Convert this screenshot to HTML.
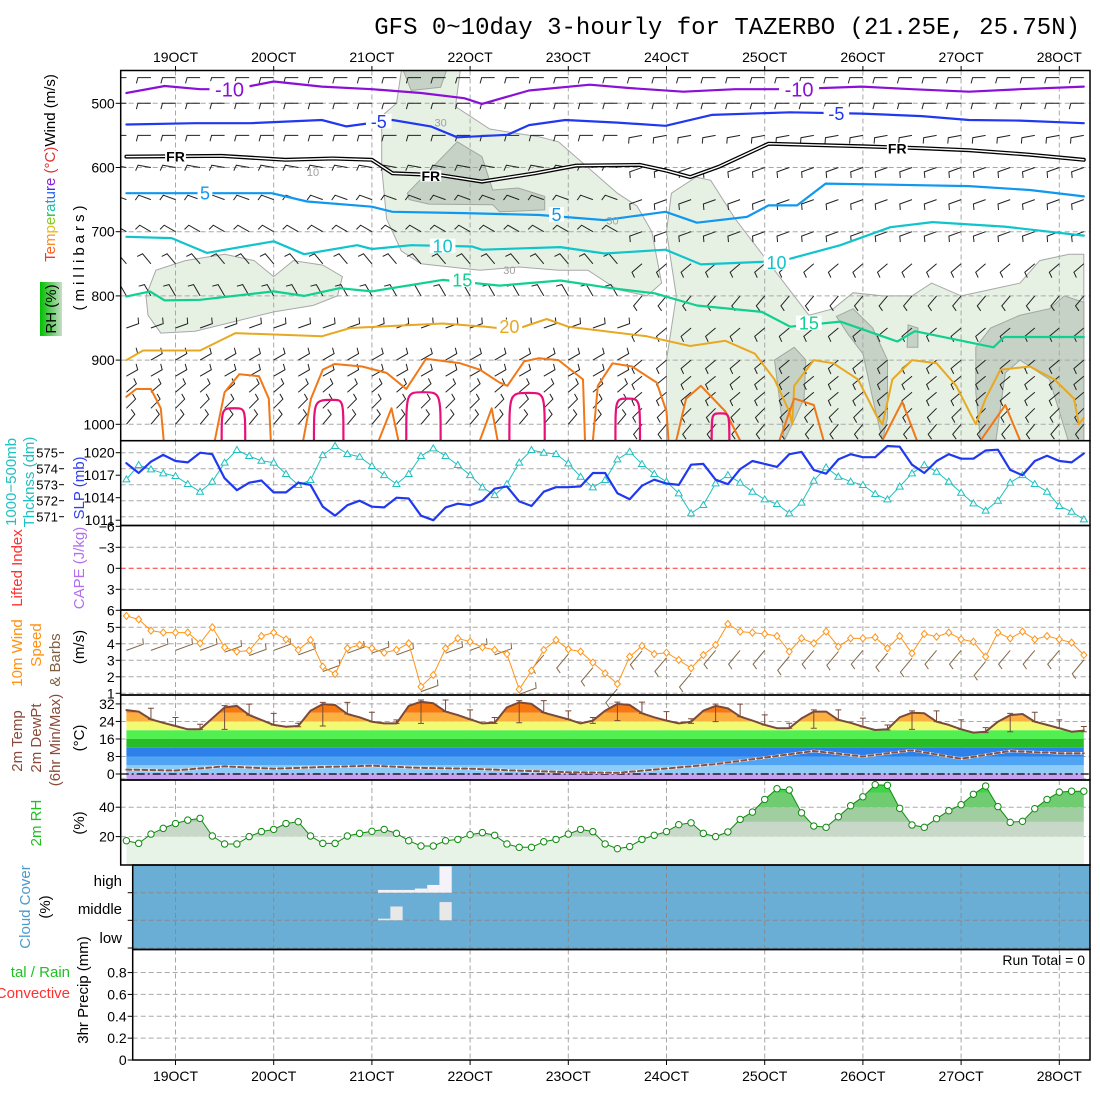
<!DOCTYPE html>
<html><head><meta charset="utf-8"><title>GFS meteogram TAZERBO</title>
<style>
html,body{margin:0;padding:0;background:#fff;}
svg{display:block;font-family:"Liberation Sans",sans-serif;}
</style></head>
<body>
<svg id="chart" xmlns="http://www.w3.org/2000/svg" width="1100" height="1100" viewBox="0 0 1100 1100">
<defs>
<linearGradient id="rhGrad" x1="0" y1="0" x2="1" y2="0">
<stop offset="0" stop-color="#00c000"/><stop offset="1" stop-color="#c8dcc8"/>
</linearGradient>
<clipPath id="clipTop"><rect x="121" y="71" width="969" height="369"/></clipPath>
<clipPath id="clipTemp"><polygon id="tempClipPoly" points="0,0"/></clipPath>
<clipPath id="clipRH"><polygon id="rhClipPoly" points="0,0"/></clipPath>
</defs>
<rect x="0" y="0" width="1100" height="1100" fill="#fff"/>
<text x="1080" y="34" text-anchor="end" font-family="'Liberation Mono',monospace" font-size="24" fill="#000">GFS 0~10day 3-hourly for TAZERBO (21.25E, 25.75N)</text>

<g id="layerBg"></g>
<g id="layerGrid"></g>
<g id="layerData"></g>
<g id="layerAxes"></g>

<g font-size="15">
<text transform="translate(55,168) rotate(-90)" text-anchor="middle"><tspan fill="#ff3030">T</tspan><tspan fill="#ff6020">e</tspan><tspan fill="#ff9020">m</tspan><tspan fill="#e0c020">p</tspan><tspan fill="#80d020">e</tspan><tspan fill="#20c040">r</tspan><tspan fill="#20c0a0">a</tspan><tspan fill="#20a0e0">t</tspan><tspan fill="#2060f0">u</tspan><tspan fill="#4030f0">r</tspan><tspan fill="#9020e0">e</tspan><tspan fill="#e03030"> (°C)</tspan><tspan fill="#000">Wind (m/s)</tspan></text>
<rect x="40" y="282" width="22" height="54" fill="url(#rhGrad)"/>
<text transform="translate(56,309) rotate(-90)" text-anchor="middle" fill="#000">RH (%)</text>
<text transform="translate(84,256) rotate(-90)" text-anchor="middle" fill="#000" letter-spacing="4">(millibars)</text>
<text transform="translate(16,482) rotate(-90)" text-anchor="middle" fill="#20c0c0">1000−500mb</text>
<text transform="translate(34,482) rotate(-90)" text-anchor="middle" fill="#20c0c0">Thcknss (dm)</text>
<text transform="translate(84,488) rotate(-90)" text-anchor="middle" fill="#3040f0">SLP (mb)</text>
<text transform="translate(22,568) rotate(-90)" text-anchor="middle" fill="#ff3030">Lifted Index</text>
<text transform="translate(84,568) rotate(-90)" text-anchor="middle" fill="#b070f0">CAPE (J/kg)</text>
<text transform="translate(22,653) rotate(-90)" text-anchor="middle" fill="#ff9010">10m Wind</text>
<text transform="translate(41,645) rotate(-90)" text-anchor="middle" fill="#ff9010">Speed</text>
<text transform="translate(60,660) rotate(-90)" text-anchor="middle" fill="#806040">&amp; Barbs</text>
<text transform="translate(84,647) rotate(-90)" text-anchor="middle" fill="#000">(m/s)</text>
<text transform="translate(22,741) rotate(-90)" text-anchor="middle" fill="#8a4a3a">2m Temp</text>
<text transform="translate(41,738) rotate(-90)" text-anchor="middle" fill="#8a4a3a">2m DewPt</text>
<text transform="translate(60,740) rotate(-90)" text-anchor="middle" fill="#8a4a3a">(6hr Min/Max)</text>
<text transform="translate(84,738) rotate(-90)" text-anchor="middle" fill="#000">(°C)</text>
<text transform="translate(41,823) rotate(-90)" text-anchor="middle" fill="#20c020">2m RH</text>
<text transform="translate(84,823) rotate(-90)" text-anchor="middle" fill="#000">(%)</text>
<text transform="translate(30,907) rotate(-90)" text-anchor="middle" fill="#4a9ad0">Cloud Cover</text>
<text transform="translate(50,907) rotate(-90)" text-anchor="middle" fill="#000">(%)</text>
<text x="70" y="977" text-anchor="end" fill="#20c020">tal / Rain</text>
<text x="70" y="998" text-anchor="end" fill="#ff3030">Convective</text>
<text transform="translate(88,990) rotate(-90)" text-anchor="middle" fill="#000">3hr Precip (mm)</text>
<text x="122" y="886" text-anchor="end" fill="#000">high</text>
<text x="122" y="914" text-anchor="end" fill="#000">middle</text>
<text x="122" y="943" text-anchor="end" fill="#000">low</text>
<text x="1085" y="965" text-anchor="end" fill="#000" font-size="14">Run Total = 0</text>
</g>

<script>
const dayTicks = [19,20,21,22,23,24,25,26,27,28];
const dayLabels = ["19OCT","20OCT","21OCT","22OCT","23OCT","24OCT","25OCT","26OCT","27OCT","28OCT"];
const startDay = 18.5;
const pressureTicks = [500,600,700,800,900,1000];
const slpTicks = [1020,1017,1014,1011];
const thkTicks = [575,574,573,572,571];
const liTicks = [-6,-3,0,3,6];
const windTicks = [1,2,3,4,5];
const tempTicks = [32,24,16,8,0];
const rhTicks = [20,40];
const precipTicks = [0,0.2,0.4,0.6,0.8];

const slp = [1018.6,1017.3,1018.8,1019.7,1018.9,1018.7,1020,1019.8,1016.6,1015,1016,1016.3,1014.7,1014.7,1016,1015.7,1012.8,1011.6,1013,1013.6,1012.8,1012.7,1014,1013.9,1011.6,1011,1012.7,1013.2,1013,1013.6,1015.2,1015.5,1013.5,1012.9,1014.8,1015.4,
1015.4,1015.5,1017.3,1017.3,1014.6,1013.8,1015.6,1016.4,1015.9,1015.7,1018.4,1018.5,1016.4,1015.8,1017.8,1018.9,1018.5,1018.1,1019.8,1020.1,1017.7,1017.2,1019.1,1019.8,1019.4,1019.4,1020.9,1020.8,1018.4,1017.3,1018.9,1019.8,1019.2,1019.2,1020.3,1020.4,1017.7,1017,1018.9,1019.6,1018.9,1018.7,1019.9];
const thickness = [573.33,574.23,573.96,573.71,573.54,573.04,572.56,573.19,574.38,575.17,574.79,574.5,574.38,573.67,572.98,573.29,574.85,575.42,574.92,574.75,574.17,573.6,573.04,573.67,574.79,575.27,574.79,574.23,573.6,572.83,572.35,573.04,574.38,575.17,575,574.92,
574.33,573.5,572.83,573.29,574.58,575.06,574.29,573.67,573.19,572.46,571.21,571.73,573.08,573.6,573.13,572.56,572.08,571.79,571.21,571.88,573.25,574.08,573.5,573.19,572.98,572.42,572.08,572.88,573.71,574.23,573.81,573.19,572.5,571.83,571.38,572,573.13,573.6,573.04,572.56,571.67,571.31,570.83];
const windSpeed = [5.69,5.48,4.8,4.68,4.68,4.68,4.03,5,3.79,3.53,3.59,4.47,4.68,4.27,3.63,4.23,2.62,2.17,3.73,3.93,3.73,3.46,3.63,4.03,1.4,2.11,3.73,4.33,4.13,3.79,3.63,3.38,1.24,2.37,3.63,4.23,
3.67,3.53,2.86,2.21,1.57,3.22,3.87,3.38,3.46,3.02,2.52,3.32,3.93,5.2,4.74,4.68,4.6,4.47,3.53,4.33,4.03,4.74,3.83,4.33,4.33,4.39,3.73,4.47,3.42,4.6,4.43,4.68,4.27,4.13,3.22,4.68,4.33,4.74,4.27,4.47,4.27,4.07,3.32];
const temp2m = [29.2,28.5,25.0,23.4,21.9,20.4,20.4,25.4,30.4,31.1,26.9,24.7,22.4,21.6,21.9,28.9,31.9,31.5,27.4,25.9,23.9,23.1,23.1,31.1,33.0,32.3,28.5,26.9,25.0,23.1,23.4,30.4,32.7,32.0,28.0,26.5,
25.0,23.1,24.4,28.9,32.0,31.5,27.7,25.9,24.4,23.1,23.9,28.9,31.1,30.0,26.2,24.4,22.4,20.9,20.9,25.4,28.5,28.5,24.7,23.4,21.6,20.1,20.4,25.9,28.0,27.7,23.9,22.4,20.4,18.9,19.3,23.9,26.9,27.4,23.9,22.4,20.9,19.3,19.8];
const rh2m = [17.2,15.4,21.7,25.6,28.9,31.2,32.4,20.4,15.0,15.0,20.0,23.4,24.9,28.9,30.1,20.4,15.4,15.4,20.4,22.2,23.6,24.9,22.2,17.2,13.6,13.6,17.2,18.1,21.3,22.7,20.9,15.0,12.7,12.7,16.5,18.1,
21.7,24.9,23.4,15.0,11.8,13.2,18.1,20.9,23.4,28.1,29.4,22.2,20.0,23.2,31.7,36.7,45.3,52.6,51.7,36.2,27.2,26.3,33.5,41.0,47.1,55.3,54.9,39.2,27.9,26.3,32.2,37.6,41.7,48.8,54.4,40.4,29.7,30.4,39.0,45.3,50.3,50.9,50.9];
const dewIdx = [0,4,8,12,16,20,24,28,32,36,40,44,48,52,56,60,64,68,72,76,78];
const dewPt = [2.0,1.6,3.5,2.4,3.2,3.8,2.8,2.4,1.5,0.8,0.5,2.5,4.5,7.5,10.5,8.0,10.8,7.0,10.5,9.5,9.5];
const cloudIdx = [21,22,23,24,25,26];
const cloudHigh = [10,10,10,15,28,95];
const cloudMid = [6,50,0,0,0,66];
const cloudLow = [0,0,0,0,0,0];
const liftedIndexLine = 0;

const isoM10 = [[18.5,484],[18.89,473],[19.25,478],[19.6,478],[20,466],[20.49,474],[21,478],[21.5,484],[21.94,492],[22.12,501],[22.6,480],[23.22,471],[23.6,476],[24.17,482],[24.7,478],[25.26,478],[25.99,474],[26.5,478],[27.08,482],[27.6,478],[28.25,474]];
const isoM5 = [[18.5,533],[19.2,531],[19.76,531],[20.49,526],[20.74,536],[21.21,526],[21.6,536],[21.87,553],[22.38,549],[22.6,534],[22.97,526],[23.5,530],[23.99,535],[24.46,518],[25.26,514],[25.99,516],[26.6,520],[27.08,526],[27.6,527],[28.25,531]];
const isoFR = [[18.5,583],[19.47,582],[20.12,588],[20.6,586],[21,588],[21.21,609],[21.7,612],[22.12,622],[22.66,609],[23.08,597],[23.73,596],[24.0,605],[24.24,615],[24.53,599],[25.04,563],[25.99,567],[26.6,570],[27.08,573],[27.7,580],[28.25,588]];
const iso5 = [[18.5,640],[19.98,640],[20.34,653],[21,661],[21.21,669],[21.94,671],[22.71,674],[23.37,682],[23.99,669],[24.31,686],[24.82,677],[25.04,659],[25.33,659],[25.62,625],[26.35,627],[27.08,629],[27.7,635],[28.25,645]];
const iso10 = [[18.5,708],[18.96,710],[19.32,733],[20,715],[20.31,735],[20.85,721],[21,727],[21.4,721],[22.02,723],[22.12,728],[22.92,724],[23.37,734],[23.99,728],[24.35,751],[24.97,747],[25.26,742],[25.77,721],[26.28,693],[26.71,685],[27.44,692],[28.25,706]];
const iso15 = [[18.5,801],[18.74,793],[18.89,807],[19.25,806],[20,793],[20.31,800],[20.67,788],[21,793],[21.72,775],[22.3,784],[22.92,776],[23.44,788],[23.88,796],[24.31,815],[24.97,825],[25.26,848],[25.77,840],[26.35,871],[26.53,855],[27.33,880],[27.44,864],[28.25,864]];
const iso20 = [[18.5,900],[18.67,885],[19.25,885],[19.61,858],[20.49,863],[20.78,850],[21.72,843],[22.16,848],[22.45,853],[22.78,836],[23.0,848],[23.8,863],[24.24,878],[24.6,870],[24.9,890],[25.1,930],[25.25,980],[25.28,1000],[25.3,940],[25.5,900],[25.7,905],[25.95,930],[26.15,990],[26.2,1000],[26.3,930],[26.5,900],[26.75,905],[26.95,940],[27.15,1000],[27.25,960],[27.4,915],[27.7,910],[27.95,930],[28.15,960],[28.2,1000],[28.25,990]];
const iso25 = [
 [[18.5,957],[18.6,945],[18.75,945],[18.85,975],[18.88,1025]],
 [[19.4,1025],[19.5,950],[19.65,922],[19.85,925],[19.95,960],[19.97,1025]],
 [[20.3,1025],[20.38,960],[20.5,915],[20.62,906],[20.9,910],[21.15,920],[21.35,945],[21.5,910],[21.55,898],[21.9,905],[22.1,915],[22.3,935],[22.38,940],[22.55,902],[22.7,897],[22.9,900],[23.15,930],[23.17,1025]],
 [[23.25,1025],[23.3,940],[23.45,905],[23.65,910],[23.9,935],[24.0,980],[24.02,1025]],
 [[24.1,1025],[24.2,960],[24.35,940],[24.6,980],[24.75,1025]],
 [[25.15,1025],[25.3,960],[25.5,970],[25.6,1025]],
 [[26.2,1025],[26.4,965],[26.55,1025]],
 [[27.2,1025],[27.45,970],[27.6,1025]],
 [[21.07,1025],[21.2,975],[21.27,1025]],
 [[22.1,1025],[22.22,975],[22.28,1025]]
];
const iso30 = [[19.47,19.6,19.71,975],[20.41,20.6,20.71,962],[21.35,21.52,21.7,950],[22.4,22.6,22.76,951],[23.48,23.6,23.73,960],[24.46,24.55,24.64,983]];

const rhLight = [
 [[18.7,800],[18.8,760],[19.1,745],[19.5,735],[19.8,745],[20.0,770],[20.2,745],[20.5,752],[20.7,770],[20.65,800],[20.4,815],[20.0,825],[19.6,840],[19.2,855],[18.85,858],[18.72,830]],
 [[21.1,520],[21.25,500],[21.3,449],[21.9,449],[21.85,505],[22.2,540],[22.4,545],[22.7,552],[22.9,560],[23.2,600],[23.5,640],[23.7,660],[23.85,700],[23.95,780],[23.8,800],[23.5,790],[23.2,760],[22.9,760],[22.5,755],[22.1,760],[21.5,750],[21.3,730],[21.15,680],[21.1,600]],
 [[24.05,640],[24.3,615],[24.45,620],[24.7,680],[25.0,740],[25.3,800],[25.45,830],[25.7,820],[25.9,795],[26.2,800],[26.5,800],[26.7,780],[27.0,800],[27.3,790],[27.6,780],[27.8,745],[28.1,735],[28.25,735],[28.25,1030],[24.0,1030],[24.0,900],[24.1,800],[24.0,700]]
];
const rhDark = [
 [[21.36,640],[21.69,588],[21.87,560],[22.12,583],[22.23,635],[22.49,632],[22.76,645],[22.76,666],[22.3,669],[22.23,658],[21.58,657],[21.38,650]],
 [[21.32,449],[21.76,449],[21.7,475],[21.4,480]],
 [[25.1,900],[25.3,880],[25.42,900],[25.4,960],[25.28,1000],[25.2,1025],[25.15,960]],
 [[25.73,832],[25.9,820],[26.1,850],[26.25,900],[26.25,990],[26.2,1025],[26.1,960],[26.0,890],[25.85,860]],
 [[26.46,845],[26.56,850],[26.56,880],[26.45,880]],
 [[27.15,880],[27.3,850],[27.6,830],[27.9,820],[28.05,800],[28.25,810],[28.25,1030],[28.1,1030],[27.9,930],[27.6,900],[27.45,920],[27.35,1030],[27.2,1030],[27.15,950]]
];
const barbLevels = [1000,975,950,925,900,850,800,750,700,650,600,550,500,460];
const barbDirEarly = [40,45,50,60,60,70,330,320,300,290,280,270,270,270];
const barbDirLate = [220,225,230,230,230,230,220,230,250,250,250,260,270,270];
const dir10Early = 70, dir10Late = 220;

const X = d => 175.5 + (d - 19) * 98.2;
const Xi = i => X(startDay + i / 8);
const Yp = p => 103.3 + (p - 500) * 0.642;
const Yslp = v => 452.7 + (1020 - v) * 7.5;
const Ythk = v => 452.7 + (575 - v) * 16;
const Yli = v => 568.3 + v * 7.0;
const Yw = v => 627.3 - (v - 5) * 16.5;
const Yt = t => 774 - t * 2.19;
const Yrh = r => 866 - r * 1.47;
const Ypr = v => 1060 - v * 109.3;

const NS = "http://www.w3.org/2000/svg";
function mk(tag, attrs, parent) {
  const e = document.createElementNS(NS, tag);
  for (const k in attrs) e.setAttribute(k, attrs[k]);
  parent.appendChild(e);
  return e;
}
const gBg = document.getElementById('layerBg');
const gGrid = document.getElementById('layerGrid');
const gData = document.getElementById('layerData');
const gAx = document.getElementById('layerAxes');

const panels = [
  {name:'upper-air-panel', x0:120.7, y0:70.5, y1:440.7},
  {name:'slp-panel', x0:120.7, y0:440.7, y1:525.5},
  {name:'cape-li-panel', x0:120.7, y0:525.5, y1:610},
  {name:'wind10m-panel', x0:120.7, y0:610, y1:695},
  {name:'temp-panel', x0:120.7, y0:695, y1:780},
  {name:'rh-panel', x0:120.7, y0:780, y1:865},
  {name:'cloud-panel', x0:132.7, y0:865, y1:949.5},
  {name:'precip-panel', x0:132.7, y0:949.5, y1:1060}
];
const XR = 1090;

const gTop = mk('g', {'clip-path':'url(#clipTop)'}, gBg);


rhLight.forEach(poly => {
  const el = mk('polygon', {points: poly.map(q => X(q[0]).toFixed(1)+','+Yp(q[1]).toFixed(1)).join(' '), fill:'#e6f1e4', stroke:'#a8a8a8', 'stroke-width':1}, gTop);
  
  
});
rhDark.forEach(poly => {
  const el = mk('polygon', {points: poly.map(q => X(q[0]).toFixed(1)+','+Yp(q[1]).toFixed(1)).join(' '), fill:'#c6d2c6', stroke:'#a0a8a0', 'stroke-width':1}, gTop);
  
  
});

panels.forEach(p => {
  dayTicks.forEach(d => {
    const l = mk('line', {x1:X(d), x2:X(d), y1:p.y0, y2:p.y1, stroke: p.name==='cloud-panel' ? '#8a8a8a' : '#a8a8a8', 'stroke-width':1, 'stroke-dasharray':'5,3'}, gGrid);
    
    
  });
});
function hgrid(y, x0, color) {
  const l = mk('line', {x1:x0, x2:XR, y1:y, y2:y, stroke:color||'#a8a8a8', 'stroke-width':1, 'stroke-dasharray':'5,3'}, gGrid);
  
  
}
pressureTicks.forEach(p => hgrid(Yp(p), 120.7));
thkTicks.forEach(v => hgrid(Ythk(v), 120.7));
[-3,3].forEach(v => hgrid(Yli(v), 120.7));
windTicks.forEach(v => hgrid(Yw(v), 120.7));
tempTicks.concat([-2]).forEach(v => hgrid(Yt(v), 120.7));
rhTicks.forEach(v => hgrid(Yrh(v), 120.7));
precipTicks.slice(1).forEach(v => hgrid(Ypr(v), 132.7));

function line(pts, attrs, parent, name) {
  const el = mk('polyline', Object.assign({points: pts.map(q => q[0].toFixed(1)+','+q[1].toFixed(1)).join(' '), fill:'none', 'stroke-linejoin':'round', 'stroke-linecap':'round'}, attrs), parent);
  
  
  return el;
}

const gBarb = mk('g', {'clip-path':'url(#clipTop)'}, gData);


let bd = '';
function barbPath(x, y, dir, L) {
  const r = dir * Math.PI / 180;
  const ux = Math.sin(r), uy = -Math.cos(r);
  const ex = x + ux*L, ey = y + uy*L;
  const fr = r - Math.PI/2.4;
  const fx = ex + Math.sin(fr)*6, fy = ey - Math.cos(fr)*6;
  return 'M'+x.toFixed(1)+' '+y.toFixed(1)+'L'+ex.toFixed(1)+' '+ey.toFixed(1)+'L'+fx.toFixed(1)+' '+fy.toFixed(1);
}
for (let i = 0; i < slp.length; i += 2) {
  const d = startDay + i/8;
  barbLevels.forEach((lv, k) => {
    const dir = d < 23.6 ? barbDirEarly[k] : barbDirLate[k];
    bd += barbPath(Xi(i), Yp(lv), dir, 13);
  });
}
const bp = mk('path', {d:bd, stroke:'#222', 'stroke-width':1, fill:'none'}, gBarb);



const gIso = mk('g', {'clip-path':'url(#clipTop)'}, gData);


const toXY = arr => arr.map(q => [X(q[0]), Yp(q[1])]);
line(toXY(iso20), {stroke:'#e8a820', 'stroke-width':2}, gIso, 'isotherm-20');
iso25.forEach(seg => line(toXY(seg), {stroke:'#f07818', 'stroke-width':2}, gIso, 'isotherm-25'));
iso30.forEach(dm => {
  const xs = X(dm[0]), xp = X(dm[1]), xe = X(dm[2]), yb = Yp(1025), yt = Yp(dm[3]);
  const el = mk('path', {d:'M'+xs+' '+yb+' C'+xs+' '+yt+' '+xs+' '+yt+' '+xp+' '+yt+' C'+xe+' '+yt+' '+xe+' '+yt+' '+xe+' '+yb, fill:'none', stroke:'#e81078', 'stroke-width':2.2}, gIso);
  
  
});
line(toXY(iso15), {stroke:'#10d090', 'stroke-width':2.2}, gIso, 'isotherm-15');
line(toXY(iso10), {stroke:'#10c4cc', 'stroke-width':2.2}, gIso, 'isotherm-10');
line(toXY(iso5), {stroke:'#1098f0', 'stroke-width':2.2}, gIso, 'isotherm-5');
line(toXY(isoFR), {stroke:'#000', 'stroke-width':4}, gIso, 'freezing-level-outer');
line(toXY(isoFR), {stroke:'#fff', 'stroke-width':1.4}, gIso, 'freezing-level-inner');
line(toXY(isoM5), {stroke:'#2038f0', 'stroke-width':2.2}, gIso, 'isotherm-minus5');
line(toXY(isoM10), {stroke:'#8a10d8', 'stroke-width':2.2}, gIso, 'isotherm-minus10');

const isoLabels = [
  [19.55,478,'-10','#8a10d8',20],[25.35,478,'-10','#8a10d8',20],
  [21.07,528,'-5','#2038f0',18],[25.73,516,'-5','#2038f0',18],
  [19.0,583,'FR','#000',14],[21.6,613,'FR','#000',14],[26.35,570,'FR','#000',14],
  [19.3,640,'5','#1098f0',18],[22.88,673,'5','#1098f0',18],
  [21.72,722,'10','#10c4cc',18],[25.12,748,'10','#10c4cc',18],
  [21.92,775,'15','#10d090',18],[25.45,842,'15','#10d090',18],
  [22.4,848,'20','#e8a820',18],
  [21.7,530,'30','#a0a0a0',11],[22.4,760,'30','#a0a0a0',11],[23.45,683,'30','#a0a0a0',11],[20.4,607,'10','#a0a0a0',11]
];
isoLabels.forEach(L => {
  const x = X(L[0]), y = Yp(L[1]);
  const w = L[2].length * L[4]*0.6 + 4;
  const r = mk('rect', {x:x - w/2, y:y - L[4]*0.4, width:w, height:L[4]*0.8, fill: L[4] < 12 ? 'none' : '#fff'}, gIso);
  
  
  const t = mk('text', {x:x, y:y + L[4]*0.36, 'text-anchor':'middle', fill:L[3], 'font-size':L[4], 'font-weight': L[2]==='FR' ? 'bold' : 'normal'}, gIso);
  t.textContent = L[2];
  
  
});

line(thickness.map((v,i) => [Xi(i), Ythk(v)]), {stroke:'#20c0c0', 'stroke-width':1}, gData, 'thickness-line');
thickness.forEach((v,i) => {
  const x = Xi(i), y = Ythk(v);
  const m = mk('polygon', {points:(x)+','+(y-3.5)+' '+(x-3.5)+','+(y+2.5)+' '+(x+3.5)+','+(y+2.5), fill:'#fff', stroke:'#20c0c0', 'stroke-width':1}, gData);
  
  
});
line(slp.map((v,i) => [Xi(i), Yslp(v)]), {stroke:'#2038f0', 'stroke-width':2.2}, gData, 'slp-line');

const li0 = mk('line', {x1:120.7, x2:XR, y1:Yli(liftedIndexLine), y2:Yli(liftedIndexLine), stroke:'#ff3030', 'stroke-width':1, 'stroke-dasharray':'5,3'}, gData);



let wb = '';
for (let i = 0; i < windSpeed.length; i += 2) {
  const d = startDay + i/8;
  const base = Yw(Math.min(windSpeed[i], 3.9) - 0.3);
  wb += barbPath(Xi(i), base, d < 22.6 ? dir10Early : dir10Late, 18);
}
const wbp = mk('path', {d:wb, stroke:'#806848', 'stroke-width':1, fill:'none'}, gData);


line(windSpeed.map((v,i) => [Xi(i), Yw(v)]), {stroke:'#ff9418', 'stroke-width':1}, gData, 'wind10m-speed-line');
windSpeed.forEach((v,i) => {
  const x = Xi(i), y = Yw(v);
  const m = mk('polygon', {points:x+','+(y-3.5)+' '+(x+3)+','+y+' '+x+','+(y+3.5)+' '+(x-3)+','+y, fill:'#fff', stroke:'#ff9418', 'stroke-width':1}, gData);
  
  
});

const tPts = temp2m.map((v,i) => [Xi(i), Yt(v)]);
document.getElementById('tempClipPoly').setAttribute('points', tPts.map(q => q[0].toFixed(1)+','+q[1].toFixed(1)).join(' ') + ' ' + Xi(temp2m.length-1) + ',780 ' + Xi(0) + ',780');
const bandEdges = [-10,0,4,8,12,16,20,24,28,32,50];
const bandColors = ['#c8a0f0','#90ccf8','#50a4f4','#2c80ea','#28bc28','#50f050','#f2fa74','#fcb040','#f87810','#f05a00'];
const gBand = mk('g', {'clip-path':'url(#clipTemp)'}, gData);


bandColors.forEach((c,k) => {
  const yTop = Math.max(695, Yt(bandEdges[k+1])), yBot = Math.min(780, Yt(bandEdges[k]));
  if (yBot <= yTop) return;
  const r = mk('rect', {x:120.7, y:yTop, width:XR-120.7, height:yBot-yTop, fill:c}, gBand);
  
  
});
const zl = mk('line', {x1:120.7, x2:XR, y1:Yt(0), y2:Yt(0), stroke:'#000', 'stroke-width':1.2, 'stroke-dasharray':'8,3,2,3'}, gData);


const dewPts = dewIdx.map((idx,k) => [Xi(idx), Yt(dewPt[k])]);
line(dewPts, {stroke:'#fff', 'stroke-width':2.5}, gData, 'dewpoint-halo');
line(dewPts, {stroke:'#8a5040', 'stroke-width':2, 'stroke-dasharray':'5,3'}, gData, 'dewpoint-line');
line(tPts, {stroke:'#7a4a3a', 'stroke-width':2}, gData, 'temperature-line');
let mm = '';
for (let i = 2; i < temp2m.length; i += 2) {
  const seg = temp2m.slice(i-2, i+1);
  const hi = Math.max(...seg) + 0.8, lo = Math.min(...seg);
  const x = Xi(i);
  mm += 'M'+x+' '+Yt(hi)+'L'+x+' '+Yt(lo)+'M'+(x-3)+' '+Yt(hi)+'L'+(x+3)+' '+Yt(hi)+'M'+(x-3)+' '+Yt(lo)+'L'+(x+3)+' '+Yt(lo);
}
const mmp = mk('path', {d:mm, stroke:'#7a4a3a', 'stroke-width':1, fill:'none'}, gData);



const rPts = rh2m.map((v,i) => [Xi(i), Yrh(v)]);
document.getElementById('rhClipPoly').setAttribute('points', rPts.map(q => q[0].toFixed(1)+','+q[1].toFixed(1)).join(' ') + ' ' + Xi(rh2m.length-1) + ',865 ' + Xi(0) + ',865');
const rhEdges = [0,20,30,40,50,70];
const rhColors = ['#e8f3e8','#c8d8c8','#a0cea0','#70cc70','#40d448'];
const gRh = mk('g', {'clip-path':'url(#clipRH)'}, gData);


rhColors.forEach((c,k) => {
  const yTop = Math.max(780, Yrh(rhEdges[k+1])), yBot = Math.min(865, Yrh(rhEdges[k]));
  const r = mk('rect', {x:120.7, y:yTop, width:XR-120.7, height:yBot-yTop, fill:c}, gRh);
  
  
});
line(rPts, {stroke:'#108a10', 'stroke-width':1}, gData, 'rh-line');
rh2m.forEach((v,i) => {
  const c = mk('circle', {cx:Xi(i), cy:Yrh(v), r:3.2, fill:'#fff', stroke:'#108a10', 'stroke-width':1}, gData);
  
  
});

const cb = mk('rect', {x:132.7, y:865, width:XR-132.7, height:84.5, fill:'#6aaed6'}, gBg);


const rows = [[cloudHigh,865,892.7,'#f6f2fa'],[cloudMid,892.7,920.3,'#e8e8e8'],[cloudLow,920.3,948,'#e8e8e8']];
rows.forEach(row => {
  cloudIdx.forEach((idx,k) => {
    const v = row[0][k];
    if (!v) return;
    const h = (row[2]-row[1]) * v / 100;
    const r = mk('rect', {x:Xi(idx)-6.1, y:row[2]-h, width:12.27, height:h, fill:row[3]}, gData);
    
    
  });
});
[892.7,920.3,948].forEach(y => hgrid(y, 132.7, '#8a8a8a'));

panels.forEach(p => {
  const r = mk('rect', {x:p.x0, y:p.y0, width:XR-p.x0, height:p.y1-p.y0, fill:'none', stroke:'#000', 'stroke-width':1.5}, gAx);
  
  
});
function ylab(y, txt, x, color, fs) {
  const t = mk('line', {x1:x-5, x2:x, y1:y, y2:y, stroke:'#000', 'stroke-width':1}, gAx);
  
  
  const tx = mk('text', {x:x-6, y:y+5, 'text-anchor':'end', 'font-size':fs||14, fill:color||'#000'}, gAx);
  tx.textContent = txt;
  
  
}
pressureTicks.forEach(p => ylab(Yp(p), String(p), 120.7));
thkTicks.forEach(v => ylab(Ythk(v), String(v), 64, '#000', 13));
slpTicks.forEach(v => ylab(Yslp(v), String(v), 120.7));
liTicks.forEach(v => ylab(Yli(v), v < 0 ? '−' + (-v) : String(v), 120.7));
windTicks.forEach(v => ylab(Yw(v), String(v), 120.7));
tempTicks.forEach(v => ylab(Yt(v), String(v), 120.7));
rhTicks.forEach(v => ylab(Yrh(v), String(v), 120.7));
precipTicks.forEach(v => ylab(Ypr(v), String(v), 132.7));
[892.7,920.3,948].forEach(y => {
  const t = mk('line', {x1:127.7, x2:132.7, y1:y, y2:y, stroke:'#000', 'stroke-width':1}, gAx);
  
  
});
dayTicks.forEach((d,k) => {
  const x = X(d);
  const tt = mk('text', {x:x, y:62, 'text-anchor':'middle', 'font-size':14, fill:'#000'}, gAx);
  tt.textContent = dayLabels[k];
  
  
  const tb = mk('text', {x:x, y:1081, 'text-anchor':'middle', 'font-size':14, fill:'#000'}, gAx);
  tb.textContent = dayLabels[k];
  
  
  const k1 = mk('line', {x1:x, x2:x, y1:66, y2:70.5, stroke:'#000', 'stroke-width':1}, gAx);
  
  
  const k2 = mk('line', {x1:x, x2:x, y1:1060, y2:1065, stroke:'#000', 'stroke-width':1}, gAx);
  
  
});
</script>
</svg>
</body></html>
